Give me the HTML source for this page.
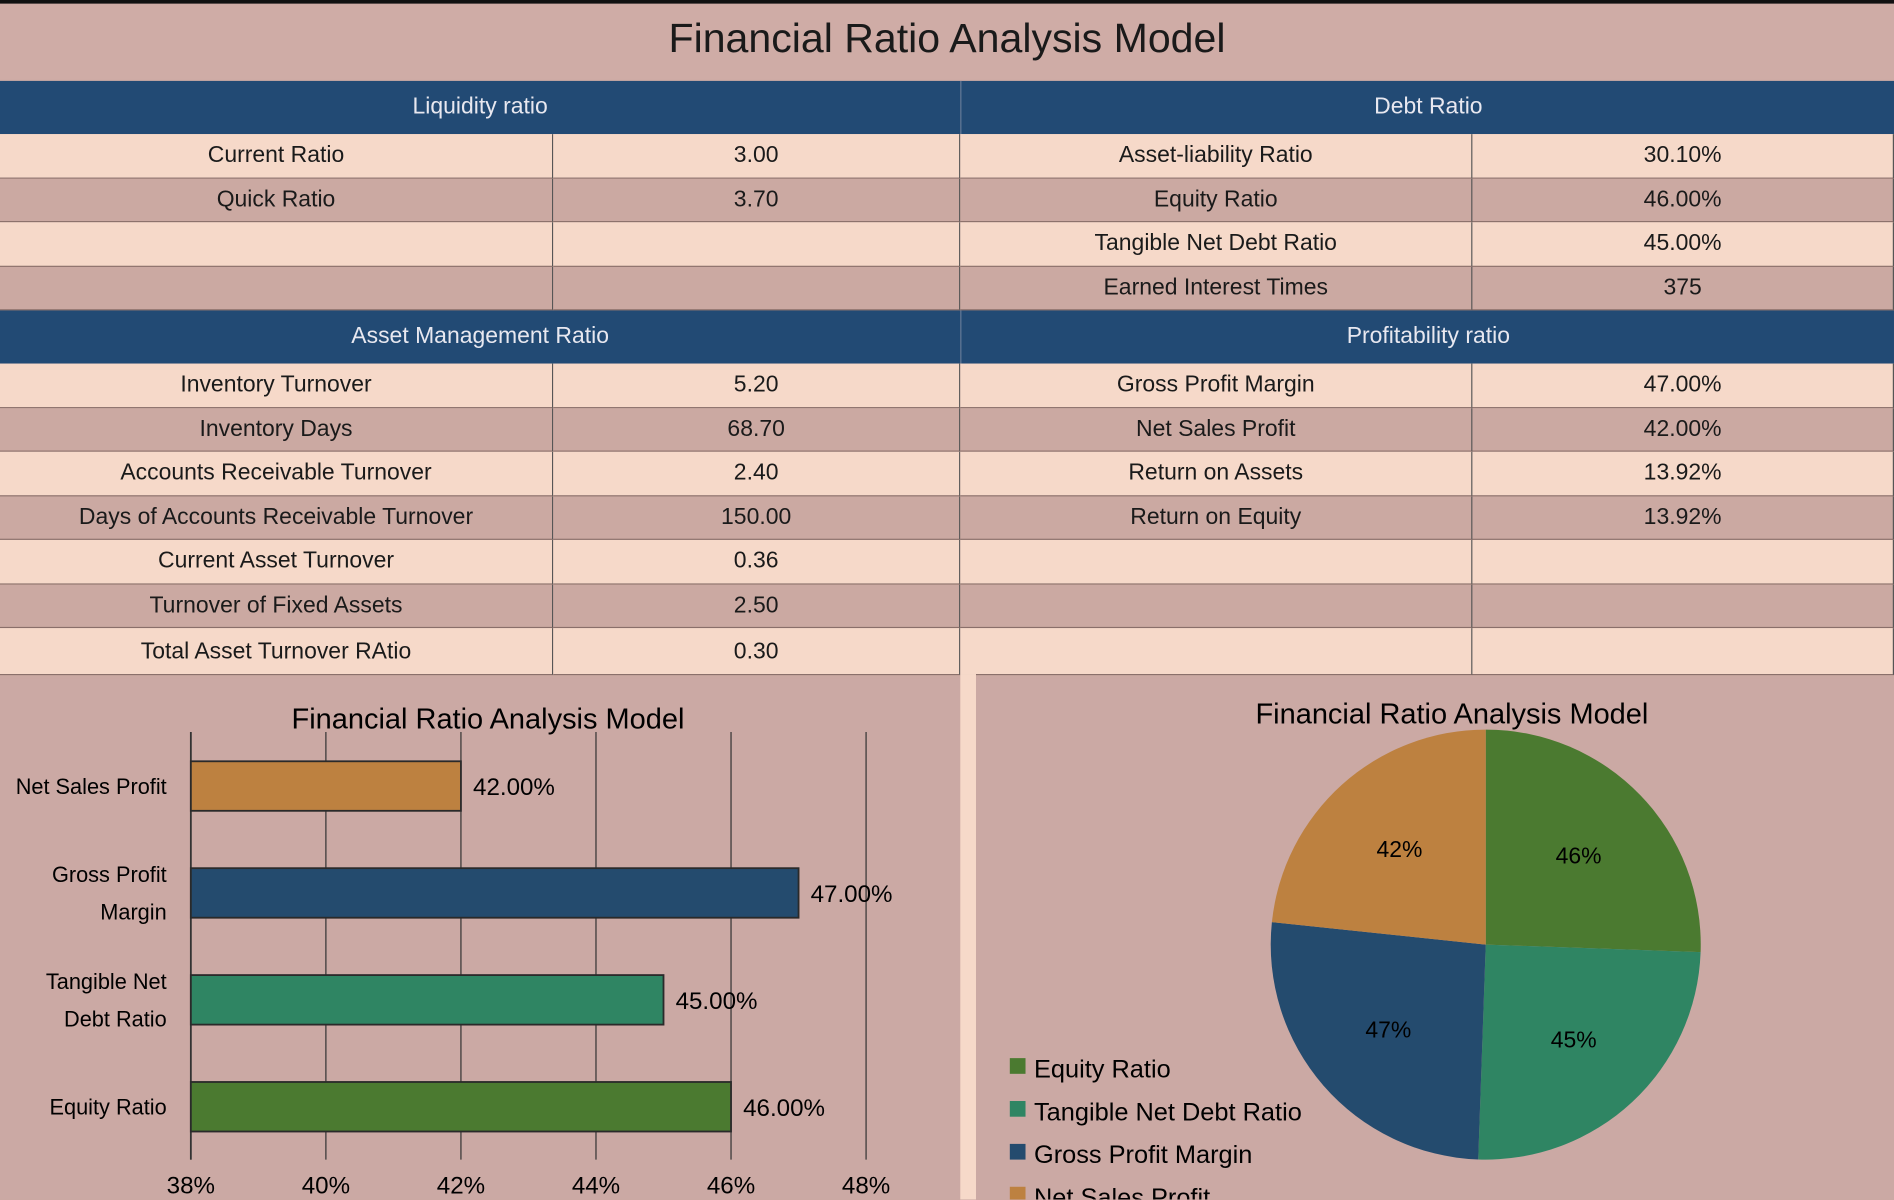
<!DOCTYPE html>
<html><head><meta charset="utf-8"><style>
html,body{margin:0;padding:0;width:1894px;height:1200px;overflow:hidden;background:#cba9a3;}
#wrap{position:absolute;left:0;top:0;width:1568px;height:993px;transform:scale(1.20791);transform-origin:0 0;font-family:"Liberation Sans",sans-serif;color:#1a1a1a;}
.abs{position:absolute;}
.title{left:0;top:0;width:1568px;height:66px;background:#cfaca6;border-top:3px solid #111;box-sizing:border-box;text-align:center;font-size:34px;line-height:58px;}
.hdr{background:#224a74;color:#e8e8f0;font-size:19px;text-align:center;line-height:44px;height:44px;}
.cell{box-sizing:border-box;text-align:center;font-size:19px;border-right:1px solid #555;border-bottom:1px solid #8a6f6a;}
.l{background:#f6d9c9;}.d{background:#cba9a2;}
</style></head><body>
<div id="wrap">
<div class="abs title">Financial Ratio Analysis Model</div>
<div id="tbl"></div>
<div class="abs" style="left:0;top:562px;width:795px;height:431px;background:#cba9a4"></div>
<div class="abs" style="left:795px;top:558px;width:13px;height:435px;background:#f6d9c9"></div>
<div class="abs" style="left:808px;top:562px;width:760px;height:431px;background:#cba9a4"></div>
<svg class="abs" style="left:0;top:0" width="1568" height="993" id="charts"></svg>
</div>
<script>
const sections=[
 {top:67,hl:'Liquidity ratio',hr:'Debt Ratio',rows:[['Current Ratio','3.00','Asset-liability Ratio','30.10%'],['Quick Ratio','3.70','Equity Ratio','46.00%'],['','','Tangible Net Debt Ratio','45.00%'],['','','Earned Interest Times','375']]},
 {top:257,hl:'Asset Management Ratio',hr:'Profitability ratio',rows:[['Inventory Turnover','5.20','Gross Profit Margin','47.00%'],['Inventory Days','68.70','Net Sales Profit','42.00%'],['Accounts Receivable Turnover','2.40','Return on Assets','13.92%'],['Days of Accounts Receivable Turnover','150.00','Return on Equity','13.92%'],['Current Asset Turnover','0.36','',''],['Turnover of Fixed Assets','2.50','',''],['Total Asset Turnover RAtio','0.30','','']]}
];
const cols=[0,458,795,1219,1568];
const tbl=document.getElementById('tbl');
sections.forEach((s,si)=>{
 const h1=document.createElement('div');h1.className='abs hdr';h1.style.cssText=`left:0;top:${s.top}px;width:795px`;h1.textContent=s.hl;
 
 
 tbl.appendChild(h1);
 const h2=document.createElement('div');h2.className='abs hdr';h2.style.cssText=`left:795px;top:${s.top}px;width:773px;border-left:1px solid #5a7594`;h2.textContent=s.hr;
 
 
 tbl.appendChild(h2);
 s.rows.forEach((r,ri)=>{
  const y=s.top+44+ri*36.5;const hgt=(si==1&&ri==6)?39:36.5;
  r.forEach((t,ci)=>{
   const c=document.createElement('div');c.className='abs cell '+(ri%2?'d':'l');
   c.style.cssText=`left:${cols[ci]}px;top:${y}px;width:${cols[ci+1]-cols[ci]}px;height:${hgt}px;line-height:${hgt}px`;
   c.textContent=t;
   
   
   tbl.appendChild(c);
  });
 });
});
// chart data
const barCats=['Net Sales Profit','Gross Profit Margin','Tangible Net Debt Ratio','Equity Ratio'];
const barVals=[42,47,45,46];
const barColors=['#bd8140','#244b6e','#2f8563','#4b7a30'];
const xTicks=[38,40,42,44,46,48];
const pieCats=['Equity Ratio','Tangible Net Debt Ratio','Gross Profit Margin','Net Sales Profit'];
const pieVals=[46,45,47,42];
const pieColors=['#4b7a30','#2f8563','#244b6e','#bd8140'];
const NS='http://www.w3.org/2000/svg',svg=document.getElementById('charts');
function mk(tag,attrs,txt){const e=document.createElementNS(NS,tag);for(const k in attrs)e.setAttribute(k,attrs[k]);if(txt!=null)e.textContent=txt;svg.appendChild(e);return e;}
const x0=158,x1=717,xmin=38,xmax=48;
const xs=v=>x0+(v-xmin)/(xmax-xmin)*(x1-x0);
const yTop=606,yBot=960,band=(yBot-yTop)/barCats.length;
const t1=mk('text',{x:404,y:603,'font-size':24,'text-anchor':'middle','font-family':'Liberation Sans'},'Financial Ratio Analysis Model');


xTicks.forEach(v=>{
 const g=mk('line',{x1:xs(v),x2:xs(v),y1:yTop,y2:yBot,stroke:'#333','stroke-width':1});
 
 
 const t=mk('text',{x:xs(v),y:988,'font-size':20,'text-anchor':'middle','font-family':'Liberation Sans'},v+'%');
 
 
});
const ax=mk('line',{x1:x0,x2:x0,y1:yTop,y2:yBot,stroke:'#333','stroke-width':1.5});


barCats.forEach((c,i)=>{
 const cy=yTop+band*(i+0.5);
 const b=mk('rect',{x:x0,y:cy-20,width:xs(barVals[i])-x0,height:41,fill:barColors[i],stroke:'#2a2a2a','stroke-width':1.5});
 
 
 const l=mk('text',{x:xs(barVals[i])+10,y:cy+8,'font-size':20,'font-family':'Liberation Sans'},barVals[i].toFixed(2)+'%');
 
 
 const words=c.split(' ');let lines=c.length>14?[words.slice(0,2).join(' '),words.slice(2).join(' ')]:[c];
 if(c==='Net Sales Profit')lines=[c];
 lines.forEach((ln,k)=>{const t=mk('text',{x:138,y:cy+7+(k-(lines.length-1)/2)*31,'font-size':18,'text-anchor':'end','font-family':'Liberation Sans'},ln);
 
 });
});
// pie
const t2=mk('text',{x:1202,y:599,'font-size':24,'text-anchor':'middle','font-family':'Liberation Sans'},'Financial Ratio Analysis Model');


const cx=1230,cy=782,r=178,tot=pieVals.reduce((a,b)=>a+b,0);
let a0=0;
pieVals.forEach((v,i)=>{
 const a1=a0+v/tot*2*Math.PI;
 const p=(a)=>[cx+r*Math.sin(a),cy-r*Math.cos(a)];
 const [sx,sy]=p(a0),[ex,ey]=p(a1);
 const s=mk('path',{d:`M${cx},${cy}L${sx},${sy}A${r},${r} 0 ${a1-a0>Math.PI?1:0} 1 ${ex},${ey}Z`,fill:pieColors[i]});
 
 
 const m=(a0+a1)/2;
 const t=mk('text',{x:cx+r*0.6*Math.sin(m),y:cy-r*0.6*Math.cos(m)+7,'font-size':19,'text-anchor':'middle','font-family':'Liberation Sans'},v+'%');
 
 
 a0=a1;
});
pieCats.forEach((c,i)=>{
 const y=884+i*35.5;
 const k=mk('rect',{x:836,y:y-8,width:13,height:13,fill:pieColors[i]});
 
 
 const t=mk('text',{x:856,y:y+8,'font-size':21,'font-family':'Liberation Sans'},c);
 
 
});
</script>
</body></html>
